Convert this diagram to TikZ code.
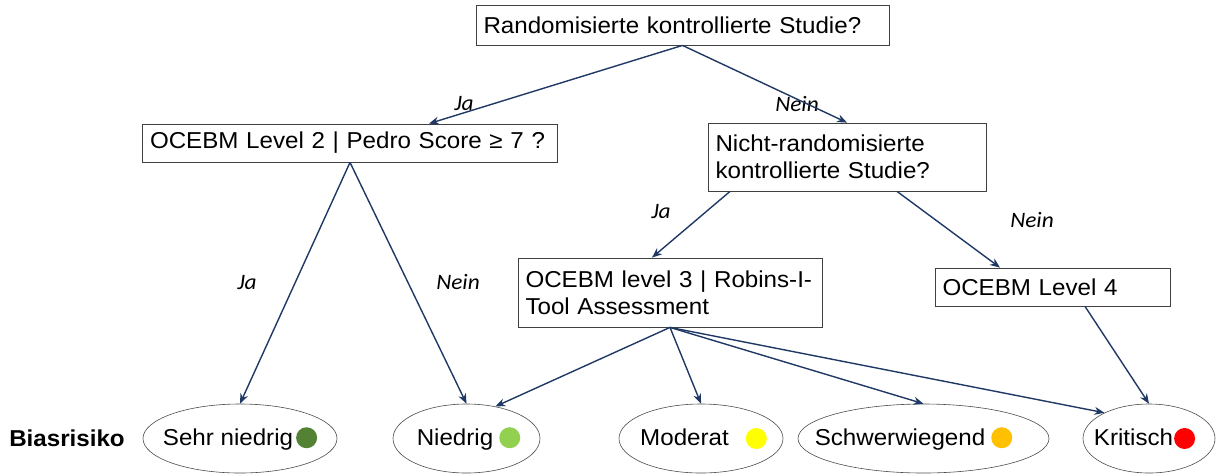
\documentclass[tikz,border=0pt]{standalone}
\usepackage{fontspec}
\setmainfont{Liberation Sans}[FakeStretch=1.05]
\newfontfamily\answerfont{Carlito}[FakeStretch=1.06]
\usetikzlibrary{shapes.geometric,arrows.meta}
\definecolor{flowblue}{HTML}{1F3864}
\definecolor{dunkelgruen}{HTML}{548235}
\definecolor{hellgruen}{HTML}{92D050}
\definecolor{gelb}{HTML}{FFFF00}
\definecolor{orange}{HTML}{FFC000}
\definecolor{rot}{HTML}{FF0000}
\newcommand{\riskdot}[1]{\tikz[baseline=-0.6ex]\fill[#1] (0,0) circle (10.5pt);}

\begin{document}
\begin{tikzpicture}[x=1pt, y=-1pt,
        question/.style={draw=black!75, line width=0.8pt, align=left, inner xsep=7.5pt, inner ysep=3pt,
            font=\fontsize{23}{27}\selectfont},
        risk/.style={draw=black!70, line width=0.6pt, ellipse, inner sep=0pt, minimum height=69pt},
        risktext/.style={font=\fontsize{23}{27}\selectfont, inner sep=0pt},
        answer/.style={font=\answerfont\itshape\fontsize{22}{26}\selectfont},
        flow/.style={draw=flowblue, line width=1.4pt, -{Stealth[length=10pt, width=8pt]}}]
    \useasboundingbox (0,0) rectangle (1217,475);
    \node[question, text width=398pt, minimum height=40pt] (rct) at (682.5,25) {Randomisierte kontrollierte Studie?};
    \node[question, text width=400pt, minimum height=38pt] (lvltwo) at (350,143) {OCEBM Level 2 | Pedro Score ≥ 7 ?};
    \node[question, text width=263pt, minimum height=68pt] (nrct) at (847,157) {Nicht-randomisierte\\kontrollierte Studie?};
    \node[question, text width=289pt, minimum height=69pt] (lvlthree) at (670,292.5) {OCEBM level 3 | Robins-I-\\Tool Assessment};
    \node[question, text width=220pt, minimum height=38pt] (lvlfour) at (1052.5,287) {OCEBM Level 4};

    \node[font=\bfseries\fontsize{23}{27}\selectfont] (bias) at (67,438) {Biasrisiko};
    \node[risk, minimum width=194pt] (sehr) at (240,438.5) {};
    \node[risk, minimum width=147pt] (niedrig) at (466.5,438.5) {};
    \node[risk, minimum width=164pt] (moderat) at (701,438.5) {};
    \node[risk, minimum width=251pt] (schwer) at (923.5,438.5) {};
    \node[risk, minimum width=132pt] (krit) at (1149,438.5) {};
    \node[risktext] (sehrtext) at (sehr.center) {Sehr niedrig\hspace{3pt}\riskdot{dunkelgruen}};
    \node[risktext] (niedrigtext) at ([xshift=2pt]niedrig.center) {Niedrig\hspace{6pt}\riskdot{hellgruen}};
    \node[risktext] (moderattext) at ([xshift=2.5pt]moderat.center) {Moderat\hspace{17pt}\riskdot{gelb}};
    \node[risktext] (schwertext) at ([xshift=-10pt]schwer.center) {Schwerwiegend\hspace{6pt}\riskdot{orange}};
    \node[risktext] (krittext) at ([xshift=-4.5pt]krit.center) {Kritisch\hspace{1pt}\riskdot{rot}};

    \node[answer] (jaeins) at (464,104) {Ja};
    \node[answer] (neineins) at (797,104) {Nein};
    \node[answer] (jazwei) at (661,212) {Ja};
    \node[answer] (neinzwei) at (1032,220) {Nein};
    \node[answer] (jadrei) at (247,283) {Ja};
    \node[answer] (neindrei) at (458,282) {Nein};

    \draw[flow] (rct.south) -- ([xshift=79pt]lvltwo.north);
    \draw[flow] (rct.south) -- (nrct.north);
    \draw[flow] (lvltwo.south) -- (sehr.north);
    \draw[flow] (lvltwo.south) -- (niedrig.north);
    \draw[flow] ([xshift=-117pt]nrct.south) -- ([xshift=-18pt]lvlthree.north);
    \draw[flow] ([xshift=50pt]nrct.south) -- ([xshift=-52.5pt]lvlfour.north);
    \draw[flow] (lvlthree.south) -- (niedrig.48);
    \draw[flow] (lvlthree.south) -- (moderat.north);
    \draw[flow] (lvlthree.south) -- (schwer.north);
    \draw[flow] (lvlthree.south) -- (krit.150);
    \draw[flow] ([xshift=32.5pt]lvlfour.south) -- (krit.north);
\end{tikzpicture}
\end{document}
